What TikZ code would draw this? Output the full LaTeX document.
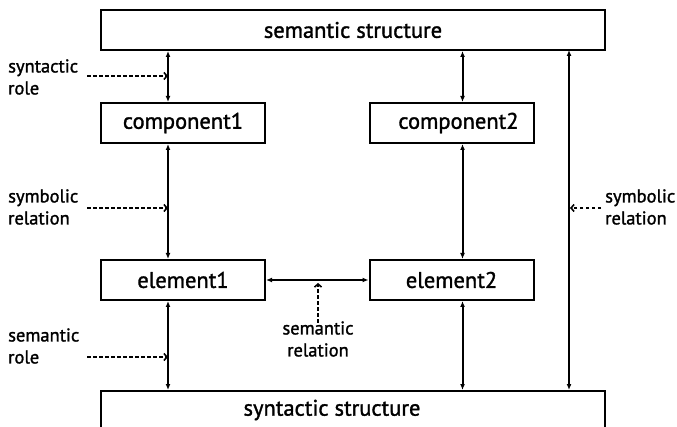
\documentclass[tikz,border=0pt]{standalone}
\usepackage{fontspec}
\setmainfont{PT Sans}[FakeBold=1.4]
\usetikzlibrary{arrows.meta}
\begin{document}
\begin{tikzpicture}[x=1pt,y=-1pt,
  box/.style={draw,line width=2pt,inner sep=0pt,font=\fontsize{22.5}{24}\selectfont},
  lbl/.style={font=\fontsize{18.5}{22}\selectfont,align=left,inner sep=0pt},
  rel/.style={line width=2pt,{Latex[length=6pt,width=5pt]}-{Latex[length=6pt,width=5pt]}},
  dsh/.style={line width=1.6pt,dash pattern=on 3.5pt off 2.5pt,-{Straight Barb[length=3pt,width=7pt]}}]
\useasboundingbox (0,0) rectangle (677,427);
\fill[white] (0,0) rectangle (677,427);
\node[box,minimum width=504pt,minimum height=40pt] (sem) at (353,30) {semantic structure\hspace{44pt}};
\node[box,minimum width=504pt,minimum height=40pt,anchor=north] (syn) at (353,390) {};
\node[font=\fontsize{22.5}{24}\selectfont,inner sep=0pt] (syntxt) at (332,410) {syntactic structure};
\node[box,minimum width=164pt,minimum height=40pt] (c1) at (183,123) {component1\hspace{14pt}};
\node[box,minimum width=164pt,minimum height=40pt] (c2) at (451.5,123) {\hspace{14pt}component2};
\node[box,minimum width=164pt,minimum height=40pt] (e1) at (183,280) {element1\hspace{22pt}};
\node[box,minimum width=164pt,minimum height=40pt] (e2) at (451.5,280) {element2};
\path (c1.north west) ++(68,0) coordinate (c1t);
\path (c1.south west) ++(68,0) coordinate (c1b);
\path (e1.north west) ++(68,0) coordinate (e1t);
\path (e1.south west) ++(68,0) coordinate (e1b);
\path (c2.north west) ++(94,0) coordinate (c2t);
\path (c2.south west) ++(94,0) coordinate (c2b);
\path (e2.north west) ++(94,0) coordinate (e2t);
\path (e2.south west) ++(94,0) coordinate (e2b);
\draw[rel] (sem.south -| c1t) -- (c1t);
\draw[rel] (c1b) -- (e1t);
\draw[rel] (e1b) -- (syn.north -| e1b);
\draw[rel] (sem.south -| c2t) -- (c2t);
\draw[rel] (c2b) -- (e2t);
\draw[rel] (e2b) -- (syn.north -| e2b);
\coordinate (rt) at (569,50);
\coordinate (rb) at (569,390);
\draw[rel] (rt) -- (rb);
\draw[rel] (e1.east) -- (e2.west);
% labels
\node[lbl,anchor=west] (l1) at (8,77) {syntactic\\role};
\node[lbl,anchor=west] (l2) at (8,207) {symbolic\\relation};
\node[lbl,anchor=west] (l3) at (8,346) {semantic\\role};
\node[lbl,anchor=west] (l4) at (605,207) {symbolic\\relation};
\node[lbl,align=center] (l5) at (318,339) {semantic\\relation};
\coordinate (a1) at (168,76);
\coordinate (a2) at (168,208);
\coordinate (a3) at (168,357);
\coordinate (a4) at (570,208);
\coordinate (a5) at (318,283);
\draw[dsh] (87,76) -- (a1);
\draw[dsh] (87,208) -- (a2);
\draw[dsh] (87,357) -- (a3);
\draw[dsh] (601,208) -- (a4);
\draw[dsh] (318,323) -- (a5);
\end{tikzpicture}
\end{document}
